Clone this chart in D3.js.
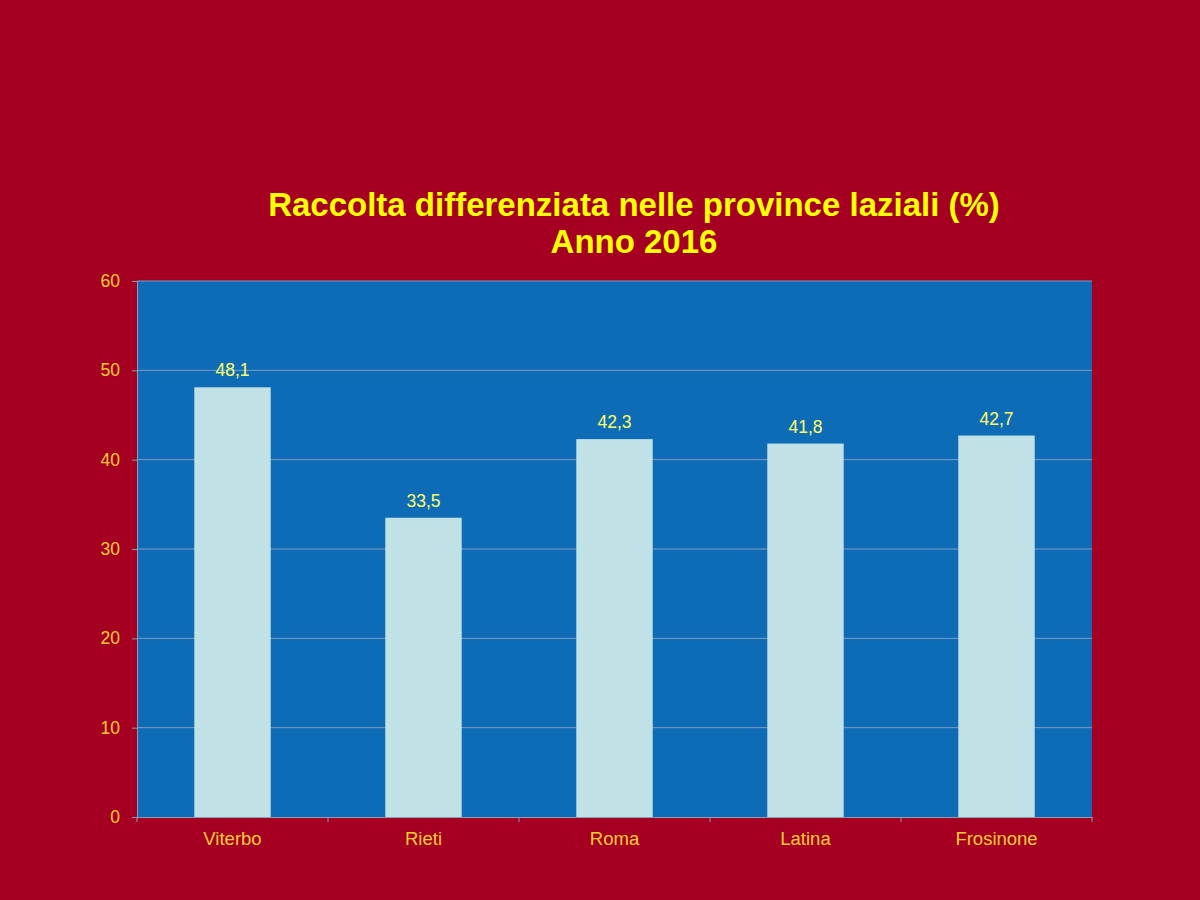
<!DOCTYPE html>
<html><head><meta charset="utf-8">
<script src="https://cdn.jsdelivr.net/npm/d3@7"></script>
<style>body{margin:0;background:#a50021;}svg{display:block}</style>
</head><body>
<svg id="c" width="1200" height="900"></svg>
<script>
const categories = ["Viterbo","Rieti","Roma","Latina","Frosinone"];
const values = [48.1,33.5,42.3,41.8,42.7];
const valueLabels = ["48,1","33,5","42,3","41,8","42,7"];
const yTicks = [0,10,20,30,40,50,60];
const titleLines = ["Raccolta differenziata nelle province laziali (%)","Anno 2016"];

const svg = d3.select("#c");
svg.append("rect").attr("width",1200).attr("height",900).attr("fill","#a50021");
const m = {l:137,r:1092,t:281,b:817};
const x = d3.scaleBand().domain(categories).range([m.l,m.r]).paddingInner(0.6).paddingOuter(0.3);
const xb = d3.scaleBand().domain(categories).range([m.l,m.r]);
const y = d3.scaleLinear().domain([0,60]).range([m.b,m.t]);
const FF = "Liberation Sans, Arial, sans-serif";

svg.append("rect").attr("x",m.l).attr("y",m.t).attr("width",m.r-m.l).attr("height",m.b-m.t).attr("fill","#0e6bb6");

// gridlines
svg.append("g").selectAll("line").data(yTicks.filter(d=>d>0)).join("line")
  .attr("x1",m.l).attr("x2",m.r).attr("y1",d=>y(d)).attr("y2",d=>y(d))
  .attr("stroke","#7f9cbf").attr("stroke-width",1);

// bars
svg.append("g").selectAll("rect").data(values).join("rect")
  .attr("x",(d,i)=>x(categories[i])).attr("width",x.bandwidth())
  .attr("y",d=>y(d)).attr("height",d=>m.b-y(d)).attr("fill","#c0e2e6");

// value labels
svg.append("g").selectAll("text").data(values).join("text")
  .attr("x",(d,i)=>x(categories[i])+x.bandwidth()/2).attr("y",d=>y(d)-11)
  .attr("text-anchor","middle").attr("fill","#ffff66")
  .attr("font-family",FF).attr("font-size",17.5)
  .text((d,i)=>valueLabels[i]);

// y axis
const yAxis = svg.append("g").attr("transform",`translate(${m.l},0)`)
  .call(d3.axisLeft(y).tickValues(yTicks).tickSize(5).tickPadding(12).tickFormat(d3.format("d")));
yAxis.select(".domain").attr("stroke","#8c9cb4");
yAxis.selectAll(".tick line").attr("stroke","#8c9cb4");
yAxis.selectAll("text").attr("fill","#ffcc33").attr("font-size",17.5).attr("font-family",FF);

// x axis
const xAxis = svg.append("g").attr("transform",`translate(0,${m.b})`)
  .call(d3.axisBottom(xb).tickSize(0).tickPadding(15));
xAxis.select(".domain").attr("stroke","#8c9cb4");
xAxis.selectAll("text").attr("fill","#ffcc33").attr("font-size",18.5).attr("font-family",FF);
// band boundary ticks
svg.append("g").selectAll("line").data(d3.range(categories.length+1)).join("line")
  .attr("x1",i=>m.l+i*xb.step()).attr("x2",i=>m.l+i*xb.step())
  .attr("y1",m.b).attr("y2",m.b+5).attr("stroke","#8c9cb4");

// title
svg.append("text").attr("x",634).attr("y",216).attr("text-anchor","middle")
  .attr("fill","#ffff00").attr("font-weight","bold").attr("font-size",33)
  .attr("font-family",FF).text(titleLines[0]);
svg.append("text").attr("x",634).attr("y",253).attr("text-anchor","middle")
  .attr("fill","#ffff00").attr("font-weight","bold").attr("font-size",33)
  .attr("font-family",FF).text(titleLines[1]);
</script>
</body></html>
